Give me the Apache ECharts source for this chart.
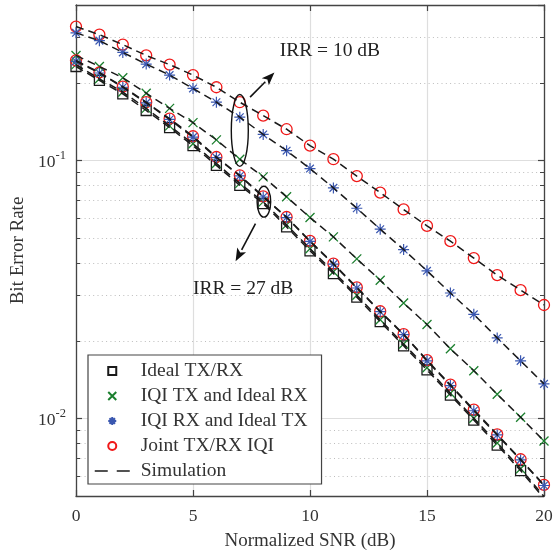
<!DOCTYPE html>
<html>
<head>
<meta charset="utf-8">
<script src="https://cdn.jsdelivr.net/npm/echarts@6/dist/echarts.min.js"></script>
<style>
  html, body { margin: 0; padding: 0; background: #fff; }
  #chart { width: 553px; height: 556px; }
</style>
</head>
<body>
<div id="chart"></div>
<script>
var snr = [0, 1, 2, 3, 4, 5, 6, 7, 8, 9, 10, 11, 12, 13, 14, 15, 16, 17, 18, 19, 20];

// BER, IRR = 10 dB and IRR = 27 dB cases
var idealTxRx = [0.231, 0.204, 0.181, 0.156, 0.134, 0.114, 0.0956, 0.0800, 0.0680, 0.0552, 0.0446,
    0.0364, 0.0295, 0.0237, 0.0191, 0.0154, 0.0123, 0.00985, 0.00788, 0.00627, 0.0049];
var iqiTx27 = [0.235, 0.207, 0.184, 0.159, 0.136, 0.116, 0.0972, 0.0814, 0.0690, 0.0562, 0.0454,
    0.0370, 0.0300, 0.0241, 0.0194, 0.0157, 0.0125, 0.0100, 0.00802, 0.00638, 0.00498];
var iqiTx10 = [0.255, 0.231, 0.209, 0.182, 0.159, 0.140, 0.120, 0.101, 0.0863, 0.0722, 0.0600,
    0.0505, 0.0415, 0.0343, 0.0280, 0.0231, 0.0186, 0.0153, 0.0124, 0.0101, 0.00817];
var iqiRx27 = [0.242, 0.218, 0.192, 0.167, 0.144, 0.123, 0.1025, 0.0870, 0.0721, 0.0600, 0.0485,
    0.0396, 0.0320, 0.0259, 0.0211, 0.0167, 0.0134, 0.0107, 0.00862, 0.00690, 0.00549];
var iqiRx10 = [0.312, 0.291, 0.262, 0.236, 0.214, 0.190, 0.168, 0.147, 0.126, 0.109, 0.0929,
    0.0782, 0.0652, 0.0541, 0.0451, 0.0373, 0.0306, 0.0253, 0.0205, 0.0167, 0.0136];
var joint27 = [0.244, 0.219, 0.193, 0.168, 0.145, 0.124, 0.103, 0.0875, 0.0725, 0.0603, 0.0487,
    0.0398, 0.0322, 0.0260, 0.0212, 0.0168, 0.0135, 0.0108, 0.00867, 0.00694, 0.00552];
var joint10 = [0.330, 0.307, 0.281, 0.255, 0.235, 0.214, 0.192, 0.168, 0.149, 0.132, 0.114,
    0.101, 0.0869, 0.0750, 0.0645, 0.0557, 0.0486, 0.0418, 0.0359, 0.0314, 0.0275];

var xTicks = [0, 5, 10, 15, 20];
var minorTicks = [0.006, 0.007, 0.008, 0.009, 0.02, 0.03, 0.04, 0.05, 0.06, 0.07, 0.08, 0.09, 0.2, 0.3];

var FONT = 'Liberation Serif';
var AX = '#444444';
var TXT = '#333333';

var chart = echarts.init(document.getElementById('chart'));

function pairs(ys) {
    return snr.map(function (x, i) { return [x, ys[i]]; });
}

var SQ_SYM = 'path://M0,0L10,0L10,10L0,10Z';
var X_SYM = 'path://M0,0L10,10M10,0L0,10';
var STAR_SYM = 'path://M5,0L5,10M0,5L10,5M1.5,1.5L8.5,8.5M8.5,1.5L1.5,8.5';

function markers(name, ys, symbol, size, color, lw) {
    return {
        type: 'scatter',
        name: name,
        data: pairs(ys),
        symbol: symbol,
        symbolSize: size,
        symbolKeepAspect: true,
        silent: true,
        z: 3,
        itemStyle: { color: 'transparent', borderColor: color, borderWidth: lw || 1.3, opacity: 1 }
    };
}

function simLine(ys) {
    return {
        type: 'line',
        name: 'Simulation',
        data: pairs(ys),
        symbol: 'none',
        silent: true,
        z: 4,
        itemStyle: { color: '#1a1a1a' },
        lineStyle: { color: '#1a1a1a', width: 1.5, type: [8, 5] }
    };
}

var GREEN = '#1b7f2e';
var BLUE = '#3a57b0';
var RED = '#f01818';
var BLACK = '#1a1a1a';

var series = [
    {
        // dotted minor grid + minor ticks on the log axis
        type: 'custom',
        name: 'minor',
        silent: true,
        z: 1,
        data: minorTicks.map(function (v) { return [0, v]; }),
        encode: { x: 0, y: 1 },
        renderItem: function (params, api) {
            var cs = params.coordSys;
            var y = Math.round(api.coord([0, api.value(1)])[1]) + 0.5;
            return {
                type: 'group',
                children: [
                    { type: 'line', shape: { x1: cs.x, y1: y, x2: cs.x + cs.width, y2: y },
                      style: { stroke: '#bdbdbd', lineWidth: 1, lineDash: [1, 3.3] } },
                    { type: 'line', shape: { x1: cs.x, y1: y, x2: cs.x + 4, y2: y },
                      style: { stroke: AX, lineWidth: 1 } },
                    { type: 'line', shape: { x1: cs.x + cs.width - 4, y1: y, x2: cs.x + cs.width, y2: y },
                      style: { stroke: AX, lineWidth: 1 } }
                ]
            };
        }
    },
    markers('Ideal TX/RX', idealTxRx, SQ_SYM, 10, BLACK),
    markers('IQI TX and Ideal RX', iqiTx27, X_SYM, 9, GREEN),
    markers('IQI TX and Ideal RX', iqiTx10, X_SYM, 9, GREEN),
    markers('Joint TX/RX IQI', joint27, 'circle', 11, RED),
    markers('Joint TX/RX IQI', joint10, 'circle', 11, RED),
    markers('IQI RX and Ideal TX', iqiRx27, STAR_SYM, 11, BLUE, 1.2),
    markers('IQI RX and Ideal TX', iqiRx10, STAR_SYM, 11, BLUE, 1.2),
    simLine(idealTxRx),
    simLine(iqiTx27),
    simLine(iqiTx10),
    simLine(iqiRx27),
    simLine(iqiRx10),
    simLine(joint27),
    simLine(joint10)
];

var option = {
    animation: false,
    backgroundColor: '#fff',
    grid: { left: 76, right: 9, top: 5, bottom: 60, outerBoundsMode: 'none', containLabel: false },
    legend: {
        orient: 'vertical',
        left: 88,
        top: 355,
        padding: [6, 14, 3, 6],
        itemWidth: 35,
        itemHeight: 8,
        itemGap: 5,
        selectedMode: false,
        symbolKeepAspect: true,
        backgroundColor: '#fff',
        borderColor: AX,
        borderWidth: 1.2,
        borderRadius: 0,
        textStyle: { fontFamily: FONT, fontSize: 19.5, color: TXT, lineHeight: 19.5, padding: [0, 0, 0, 6] },
        data: [
            'Ideal TX/RX',
            'IQI TX and Ideal RX',
            'IQI RX and Ideal TX',
            'Joint TX/RX IQI',
            { name: 'Simulation', itemStyle: { opacity: 0 },
              lineStyle: { color: '#1a1a1a', width: 1.5, type: [13, 9] } }
        ]
    },
    xAxis: [
        {
            type: 'value',
            position: 'bottom',
            min: xTicks[0],
            max: xTicks[xTicks.length - 1],
            interval: 5,
            name: 'Normalized SNR (dB)',
            nameLocation: 'middle',
            nameGap: 36,
            nameTextStyle: { fontFamily: FONT, fontSize: 19, color: TXT },
            axisLine: { show: true, onZero: false, lineStyle: { color: AX, width: 1.3 } },
            axisTick: { show: true, inside: true, length: 6, lineStyle: { color: AX, width: 1.2 } },
            axisLabel: { fontFamily: FONT, fontSize: 17.5, color: TXT, margin: 11 },
            splitLine: { show: true, lineStyle: { color: '#dedede', width: 1.2 } }
        },
        {
            type: 'value',
            position: 'top',
            min: xTicks[0],
            max: xTicks[xTicks.length - 1],
            interval: 5,
            axisLine: { show: true, onZero: false, lineStyle: { color: AX, width: 1.3 } },
            axisTick: { show: true, inside: true, length: 6, lineStyle: { color: AX, width: 1.2 } },
            axisLabel: { show: false },
            splitLine: { show: false }
        }
    ],
    yAxis: [
        {
            type: 'log',
            logBase: 10,
            position: 'left',
            min: 0.005,
            max: 0.4,
            name: 'Bit Error Rate',
            nameLocation: 'middle',
            nameGap: 48,
            nameTextStyle: { fontFamily: FONT, fontSize: 19, color: TXT },
            axisLine: { show: true, onZero: false, lineStyle: { color: AX, width: 1.3 } },
            axisTick: { show: true, inside: true, length: 6, lineStyle: { color: AX, width: 1.2 } },
            axisLabel: {
                showMinLabel: false,
                showMaxLabel: false,
                margin: 10,
                formatter: function (v) {
                    var e = Math.round(Math.log10(v));
                    return '{b|10}{s|' + e + '}';
                },
                rich: {
                    b: { fontFamily: FONT, fontSize: 17.5, color: TXT, lineHeight: 22, verticalAlign: 'bottom' },
                    s: { fontFamily: FONT, fontSize: 12.5, color: TXT, lineHeight: 13, verticalAlign: 'top' }
                }
            },
            splitLine: { show: true, lineStyle: { color: '#dedede', width: 1.2 } }
        },
        {
            type: 'log',
            logBase: 10,
            position: 'right',
            min: 0.005,
            max: 0.4,
            axisLine: { show: true, onZero: false, lineStyle: { color: AX, width: 1.3 } },
            axisTick: { show: true, inside: true, length: 6, lineStyle: { color: AX, width: 1.2 } },
            axisLabel: { show: false },
            splitLine: { show: false }
        }
    ],
    series: series
};

chart.setOption(option);

// annotations, anchored in data space
function px(x, y) {
    return chart.convertToPixel({ xAxisIndex: 0, yAxisIndex: 0 }, [x, y]);
}

function arrow(from, to) {
    var a = px(from[0], from[1]);
    var b = px(to[0], to[1]);
    var dx = b[0] - a[0], dy = b[1] - a[1];
    var len = Math.sqrt(dx * dx + dy * dy);
    var ux = dx / len, uy = dy / len;
    var head = 13, half = 5;
    var bx = b[0] - ux * head, by = b[1] - uy * head;
    return [
        { type: 'line', silent: true, z: 10,
          shape: { x1: a[0], y1: a[1], x2: bx, y2: by },
          style: { stroke: '#111', lineWidth: 1.6 } },
        { type: 'polygon', silent: true, z: 10,
          shape: { points: [[b[0], b[1]], [bx - uy * half, by + ux * half], [bx + ux * 3, by + uy * 3], [bx + uy * half, by - ux * half]] },
          style: { fill: '#111' } }
    ];
}

function ellipse(cx, cy, yTop, rx) {
    var c = px(cx, cy);
    var t = px(cx, yTop);
    return { type: 'ellipse', silent: true, z: 10,
             shape: { cx: c[0], cy: c[1], rx: rx, ry: c[1] - t[1] },
             style: { fill: 'none', stroke: '#111', lineWidth: 1.4 } };
}

function label(x, y, txt) {
    var p = px(x, y);
    return { type: 'text', silent: true, z: 10, x: p[0], y: p[1],
             style: { text: txt, fontFamily: FONT, fontSize: 19.5, fill: '#222', align: 'center', verticalAlign: 'middle' } };
}

var graphics = []
    .concat([ellipse(7, 0.1306, 0.180, 8.5)])
    .concat(arrow([7.44, 0.1758], [8.48, 0.219]))
    .concat([label(10.85, 0.2667, 'IRR = 10 dB')])
    .concat([ellipse(8.03, 0.0691, 0.0793, 6.8)])
    .concat(arrow([7.67, 0.0569], [6.82, 0.0406]))
    .concat([label(7.14, 0.0318, 'IRR = 27 dB')]);

chart.setOption({ graphic: graphics });
</script>
</body>
</html>
